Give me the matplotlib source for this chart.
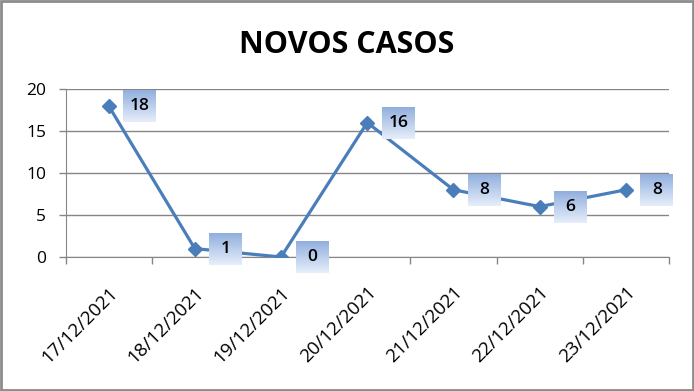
import numpy as np
import matplotlib
matplotlib.use("Agg")
import matplotlib.pyplot as plt
from matplotlib.patches import Rectangle
from matplotlib.offsetbox import OffsetImage, AnnotationBbox

dates = ["17/12/2021", "18/12/2021", "19/12/2021", "20/12/2021",
         "21/12/2021", "22/12/2021", "23/12/2021"]
novos_casos = [18, 1, 0, 16, 8, 6, 8]
y_ticks = [0, 5, 10, 15, 20]

plt.rcParams['font.family'] = ['Open Sans', 'DejaVu Sans']

fig = plt.figure(figsize=(6.94, 3.91), dpi=100)
ax = fig.add_axes([0.0944, 0.3427, 0.8696, 0.4297])

x = np.arange(len(dates))
ax.plot(x, novos_casos, color='#4A7EBB', lw=2.3, marker='D', ms=7.5,
        markerfacecolor='#4A7EBB', markeredgecolor='#4A7EBB', zorder=3)

# gradient label boxes (light blue on top, fading down)
grad = np.linspace(0, 1, 32)[:, None, None]
top = np.array([0.57, 0.69, 0.87])
bot = np.array([0.90, 0.93, 0.98])
img = top * (1 - grad) + bot * grad
img = np.repeat(img, 33, axis=1)
for xi, v in zip(x, novos_casos):
    ab = AnnotationBbox(OffsetImage(img, zoom=0.72), (xi, v), xybox=(31, 0),
                        xycoords='data', boxcoords='offset pixels',
                        frameon=False, pad=0, zorder=4)
    ax.add_artist(ab)
    ax.annotate(str(v), (xi, v), xytext=(31, 0), textcoords='offset pixels',
                ha='center', va='center', fontsize=12.5, fontweight=600,
                color='black', zorder=5)

ax.set_xlim(-0.5, len(dates) - 0.5)
ax.set_ylim(0, 20)
ax.set_yticks(y_ticks)
ax.set_yticklabels([str(t) for t in y_ticks], fontsize=12.5)
ax.yaxis.grid(True, color='#868686', lw=1)
ax.set_axisbelow(True)
ax.tick_params(axis='y', length=5, color='#868686', width=1, pad=9)

ax.set_xticks(x)
ax.set_xticklabels(dates, rotation=45, ha='right', rotation_mode='anchor',
                   fontsize=13.5)
ax.set_xticks(np.arange(len(dates) + 1) - 0.5, minor=True)
ax.tick_params(axis='x', which='major', length=0, pad=19)
ax.tick_params(axis='x', which='minor', length=5, color='#868686', width=1)

for s in ['top', 'right']:
    ax.spines[s].set_visible(False)
ax.spines['bottom'].set_color('#868686')
ax.spines['left'].set_color('#868686')

fig.text(0.5, 0.885, "NOVOS CASOS", ha='center', va='center',
         fontsize=22, fontweight='bold')

fig.patches.append(Rectangle((0.002, 0.003), 0.996, 0.994, transform=fig.transFigure,
                             fill=False, edgecolor='#8C8C8C', lw=2))

fig.savefig("out.png", dpi=100)
